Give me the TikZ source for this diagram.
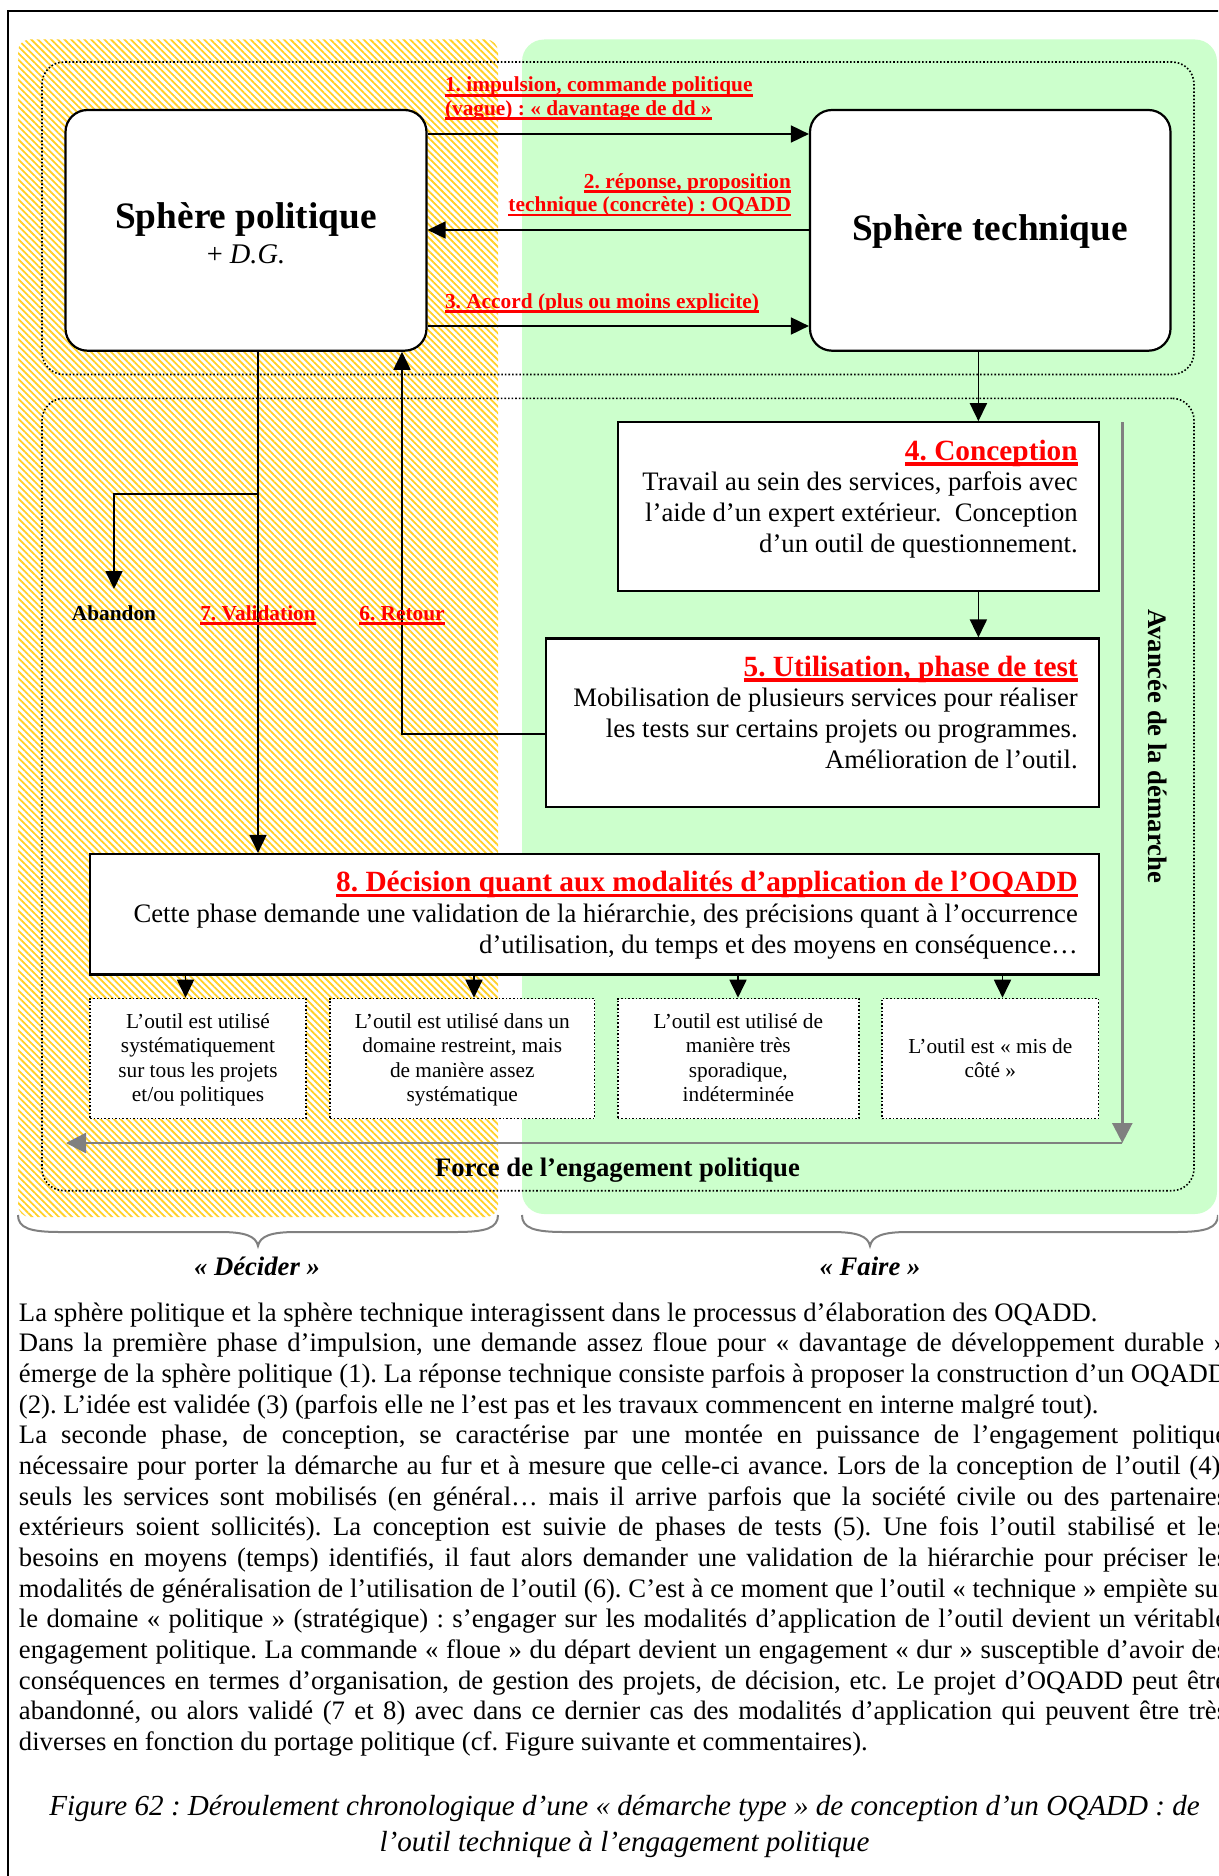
\documentclass[tikz,border=0pt]{standalone}
\usepackage{fontspec}
\setmainfont{Liberation Serif}
\usetikzlibrary{arrows.meta,patterns.meta}
\definecolor{grn}{RGB}{204,255,204}
\definecolor{hatchy}{RGB}{255,208,40}
\definecolor{rd}{RGB}{255,0,0}
\definecolor{gry}{RGB}{128,128,128}
\frenchspacing
\newcommand\ulx[3]{\setbox0=\hbox{#3}\rlap{\rule[-#1]{\wd0}{#2}}\box0}
\newcommand\fbody{\fontsize{26.67pt}{30.68pt}\selectfont\frenchspacing}
\newcommand\flab{\fontsize{21.33pt}{24.5pt}\selectfont\bfseries}
\newcommand\fhead{\fontsize{29.33pt}{30.7pt}\selectfont\bfseries}
\newcommand\ftxt{\fontsize{26.67pt}{30.7pt}\selectfont}
\newcommand\fsphere{\fontsize{37.3pt}{40pt}\selectfont\bfseries}
\newcommand\fdg{\fontsize{28.4pt}{32pt}\selectfont}
\newcommand\fsub{\fontsize{21.33pt}{24.5pt}\selectfont}
\newcommand\fbig{\fontsize{26.67pt}{30.7pt}\selectfont\bfseries}
\newcommand\fcap{\fontsize{29.1pt}{36pt}\selectfont\itshape}
\newcommand\headx[1]{{\fhead\color{rd}\ulx{5.7pt}{3.3pt}{#1}}}
\newcommand\rlines[1]{{\ftxt\begin{tabular}[t]{@{}r@{}}#1\end{tabular}}}
\newcommand\clines[1]{{\fsub\begin{tabular}[t]{@{}c@{}}#1\end{tabular}}}
\newcommand\jl[1]{\makebox[\linewidth][s]{#1}\\}
\tikzset{
 rbox/.style={draw, line width=2.2pt, fill=white, rounded corners=22pt, inner sep=0pt},
 sbox/.style={draw, line width=2.2pt, fill=white, inner sep=0pt},
 subbox/.style={draw, dotted, line width=1.6pt, fill=white, inner sep=0pt, minimum height=120pt},
 dotframe/.style={draw, dotted, line width=1.6pt, rounded corners=22pt, inner sep=0pt},
 arr/.style={line width=1.8pt, -{Triangle[length=18pt,width=17pt]}},
 garr/.style={draw=gry, line width=2.5pt, -{Triangle[length=20pt,width=20pt]}},
 txt/.style={inner sep=0pt, outer sep=0pt},
 lab/.style={txt, font=\flab, text=rd},
}
\begin{document}
\begin{tikzpicture}[x=1pt,y=-1pt]
\useasboundingbox (0,0) rectangle (1218,1876);
\clip (0,0) rectangle (1218,1876);
\fill[white] (0,0) rectangle (1218,1876);
% frame
\draw[line width=1.5pt] (8,1890) -- (8,11) -- (1240,11);
% zones
\fill[pattern={Lines[angle=-45,distance=4.7pt,line width=1.8pt]}, pattern color=hatchy, rounded corners=12pt] (18,39.5) rectangle (498,1217);
\fill[grn, rounded corners=22pt] (522,39.5) rectangle (1217,1214);
% braces
\draw[gry, line width=2pt] (18,1215) .. controls (18,1228) and (30,1232) .. (60,1232) -- (220,1232) .. controls (245,1232) and (256,1236) .. (258,1246) .. controls (260,1236) and (271,1232) .. (296,1232) -- (456,1232) .. controls (486,1232) and (498,1228) .. (498,1215);
\draw[gry, line width=2pt] (522,1215) .. controls (522,1228) and (534,1232) .. (564,1232) -- (832,1232) .. controls (857,1232) and (868,1236) .. (870,1246) .. controls (872,1236) and (883,1232) .. (908,1232) -- (1176,1232) .. controls (1206,1232) and (1218,1228) .. (1218,1215);
% dotted frames
\node[dotframe, minimum width=1152pt, minimum height=312.5pt] (d1) at (618,218.25) {};
\node[dotframe, minimum width=1152pt, minimum height=792.4pt] (d2) at (618,794.5) {};
% boxes
\node[rbox, minimum width=361pt, minimum height=240.7pt] (pol) at (246,230.35) {};
\node[rbox, minimum width=360.5pt, minimum height=240.7pt] (tech) at (990.25,230.35) {};
\node[sbox, minimum width=480.9pt, minimum height=168.4pt] (conc) at (858.15,506.5) {};
\node[sbox, minimum width=552.9pt, minimum height=168.2pt] (util) at (822.15,722.6) {};
\node[sbox, minimum width=1008.6pt, minimum height=120.5pt] (dec) at (594.3,914.25) {};
\node[subbox, minimum width=216pt] (s1) at (198,1058.5) {};
\node[subbox, minimum width=264.5pt] (s2) at (462.25,1058.5) {};
\node[subbox, minimum width=241.3pt] (s3) at (738.35,1058.5) {};
\node[subbox, minimum width=216.6pt] (s4) at (990.3,1058.5) {};
% helper coordinates
\coordinate (ya1) at (0,134);
\coordinate (ya2) at (0,230);
\coordinate (ya3) at (0,326);
\coordinate (xt) at (978.4,0);
\coordinate (xv) at (258,0);
\coordinate (xr) at (402,0);
\coordinate (yr) at (0,734);
\coordinate (brk) at (258,494);
\coordinate (abtip) at (114,589);
\coordinate (x1) at (185.5,0);
\coordinate (x2) at (474,0);
\coordinate (x3) at (738,0);
\coordinate (x4) at (1002.5,0);
\coordinate (gtop) at (1122.3,422.3);
\coordinate (gcorner) at (1122.3,1143);
\coordinate (gleft) at (66,1143);
% connectors
\draw[arr] (pol.east |- ya1) -- (tech.west |- ya1);
\draw[arr] (tech.west |- ya2) -- (pol.east |- ya2);
\draw[arr] (pol.east |- ya3) -- (tech.west |- ya3);
\draw[arr] (tech.south -| xt) -- (conc.north -| xt);
\draw[arr] (conc.south -| xt) -- (util.north -| xt);
\draw[arr] (pol.south -| xv) -- (dec.north -| xv);
\draw[arr] (brk) -| (abtip);
\draw[arr] (util.west |- yr) -| (pol.south -| xr);
\draw[arr] (dec.south -| x1) -- (s1.north -| x1);
\draw[arr] (dec.south -| x2) -- (s2.north -| x2);
\draw[arr] (dec.south -| x3) -- (s3.north -| x3);
\draw[arr] (dec.south -| x4) -- (s4.north -| x4);
\draw[garr] (gtop) -- (gcorner);
\draw[garr] (gcorner) -- (gleft);
% texts in spheres
\node[txt, anchor=base, font=\fsphere] (tpol) at (246,228) {Sphère politique};
\node[txt, anchor=base, font=\fdg] (tdg) at (246,263) {+ \textit{D.G.}};
\node[txt, anchor=base, font=\fsphere] (ttech) at (990,240) {Sphère technique};
% arrow labels
\node[lab, anchor=base west] (l1a) at (445,92) {\ulx{4.7pt}{2.4pt}{1. impulsion, commande politique}};
\node[lab, anchor=base west] (l1b) at (445,115) {\ulx{4.7pt}{2.4pt}{(vague) : «~davantage de dd~»}};
\node[lab, anchor=base east] (l2a) at (791,188) {\ulx{4.7pt}{2.4pt}{2. réponse, proposition}};
\node[lab, anchor=base east] (l2b) at (791,211.5) {\ulx{4.7pt}{2.4pt}{technique (concrète) : OQADD}};
\node[lab, anchor=base west] (l3) at (445,308) {\ulx{4.7pt}{2.4pt}{3. Accord (plus ou moins explicite)}};
% phase boxes
\node[txt, anchor=base east] (tconc) at (1077.7,460) {\rlines{\headx{4. Conception}\\ Travail au sein des services, parfois avec\\ l’aide d’un expert extérieur.\ \ Conception\\ d’un outil de questionnement.}};
\node[txt, anchor=base east] (tutil) at (1077.7,676) {\rlines{\headx{5. Utilisation, phase de test}\\ Mobilisation de plusieurs services pour réaliser\\ les tests sur certains projets ou programmes.\\ Amélioration de l’outil.}};
\node[txt, anchor=base east] (tdec) at (1077.7,891.7) {\rlines{\headx{8. Décision quant aux modalités d’application de l’OQADD}\\ Cette phase demande une validation de la hiérarchie, des précisions quant à l’occurrence\\ d’utilisation, du temps et des moyens en conséquence…}};
% sub boxes
\node[txt, anchor=base] (ts1) at (198,1028) {\clines{L’outil est utilisé\\ systématiquement\\ sur tous les projets\\ et/ou politiques}};
\node[txt, anchor=base] (ts2) at (462.25,1028) {\clines{L’outil est utilisé dans un\\ domaine restreint, mais\\ de manière assez\\ systématique}};
\node[txt, anchor=base] (ts3) at (738.35,1028) {\clines{L’outil est utilisé de\\ manière très\\ sporadique,\\ indéterminée}};
\node[txt, anchor=base] (ts4) at (990.3,1053) {\clines{L’outil est «~mis de\\ côté~»}};
% branch labels
\node[txt, anchor=base, font=\flab] (aband) at (114,620) {Abandon};
\node[lab, anchor=base] (valid) at (258,620) {\ulx{4.7pt}{2.4pt}{7. Validation}};
\node[lab, anchor=base] (retour) at (402,620) {\ulx{4.7pt}{2.4pt}{6. Retour}};
% axes labels
\node[txt, rotate=-90, font=\fbig] (avance) at (1158,746) {Avancée de la démarche};
\node[txt, anchor=base, font=\fbig] (force) at (617.5,1176.7) {Force de l’engagement politique};
\node[txt, anchor=base, font=\fbig\itshape] (decider) at (257,1275) {«~Décider~»};
\node[txt, anchor=base, font=\fbig\itshape] (faire) at (870,1275) {«~Faire~»};
% body text
\node[txt, anchor=base west] (body) at (19,1321) {\begin{minipage}[t]{1208pt}\fbody
La sphère politique et la sphère technique interagissent dans le processus d’élaboration des OQADD.\\
\jl{Dans la première phase d’impulsion, une demande assez floue pour «~davantage de développement durable~»}
\jl{émerge de la sphère politique (1). La réponse technique consiste parfois à proposer la construction d’un OQADD}
(2). L’idée est validée (3) (parfois elle ne l’est pas et les travaux commencent en interne malgré tout).\\
\jl{La seconde phase, de conception, se caractérise par une montée en puissance de l’engagement politique}
\jl{nécessaire pour porter la démarche au fur et à mesure que celle-ci avance. Lors de la conception de l’outil (4),}
\jl{seuls les services sont mobilisés (en général… mais il arrive parfois que la société civile ou des partenaires}
\jl{extérieurs soient sollicités). La conception est suivie de phases de tests~(5). Une fois l’outil stabilisé et les}
\jl{besoins en moyens (temps) identifiés, il faut alors demander une validation de la hiérarchie pour préciser les}
\jl{modalités de généralisation de l’utilisation de l’outil (6). C’est à ce moment que l’outil «~technique~» empiète sur}
\jl{le domaine «~politique~» (stratégique)~: s’engager sur les modalités d’application de l’outil devient un véritable}
\jl{engagement politique. La commande «~floue~» du départ devient un engagement «~dur~» susceptible d’avoir des}
\jl{conséquences en termes d’organisation, de gestion des projets, de décision, etc. Le projet d’OQADD peut être}
\jl{abandonné, ou alors validé (7 et 8) avec dans ce dernier cas des modalités d’application qui peuvent être très}
diverses en fonction du portage politique (cf. Figure suivante et commentaires).
\end{minipage}};
% caption
\node[txt, anchor=base, font=\fcap] (cap1) at (624.5,1815) {Figure 62 : Déroulement chronologique d’une «~démarche type~» de conception d’un OQADD : de};
\node[txt, anchor=base, font=\fcap] (cap2) at (624.5,1851) {l’outil technique à l’engagement politique};
\end{tikzpicture}
\end{document}
